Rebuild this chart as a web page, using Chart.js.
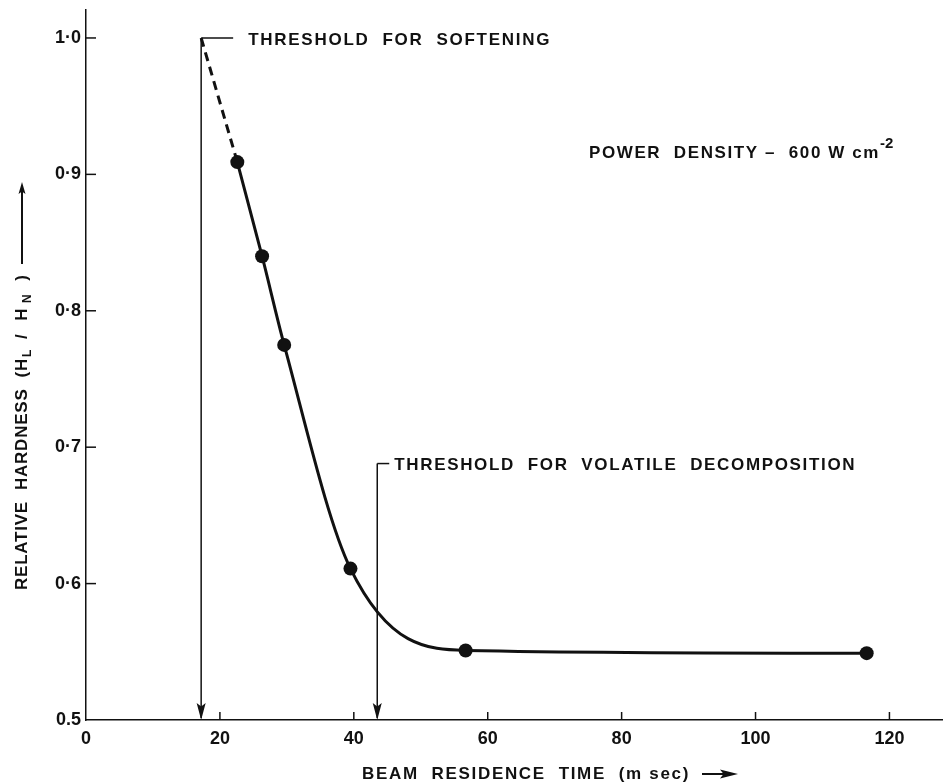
<!DOCTYPE html>
<html>
<head>
<meta charset="utf-8">
<script src="https://cdn.jsdelivr.net/npm/chart.js@4.4.1/dist/chart.umd.min.js"></script>
<style>
  html, body { margin: 0; padding: 0; background: #fff; overflow: hidden; }
  canvas { display: block; }
</style>
</head>
<body>
<canvas id="chart" width="943" height="784"></canvas>
<script>
// measured points (beam residence time in ms, relative hardness HL/HN)
const residenceTime = [22.6, 26.3, 29.6, 39.5, 56.7, 116.6];
const relativeHardness = [0.909, 0.840, 0.775, 0.611, 0.551, 0.549];

// dashed extrapolation back to the softening threshold
const extrapTime = [17.2, 22.6];
const extrapHardness = [1.0, 0.909];

// threshold arrows: where they sit on x and where they start on y
const thresholdTime = [17.2, 43.5];
const thresholdTop = [1.0, 0.688];
const thresholdLabels = ["THRESHOLD  FOR  SOFTENING", "THRESHOLD  FOR  VOLATILE  DECOMPOSITION"];

const xTicks = [0, 20, 40, 60, 80, 100, 120];
const xTickLabels = ["0", "20", "40", "60", "80", "100", "120"];
const yTicks = [0.5, 0.6, 0.7, 0.8, 0.9, 1.0];
const yTickLabels = ["0.5", "0·6", "0·7", "0·8", "0·9", "1·0"];

const INK = "#111";
const FONT = "'Liberation Sans', Arial, sans-serif";
const TXT = "bold 17px " + FONT;

// draws text stretched with letter spacing to cover a given width
function fitText(ctx, text, x, y, width) {
  ctx.letterSpacing = "0px";
  const w = ctx.measureText(text).width;
  const n = [...text].length;
  const ls = n > 1 ? (width - w) / n : 0;
  ctx.letterSpacing = ls + "px";
  ctx.fillText(text, x, y);
  const used = ctx.measureText(text).width;
  ctx.letterSpacing = "0px";
  return used;
}

function arrowHead(ctx, x, y, dx, dy, len, half) {
  // tip at (x,y), pointing along (dx,dy)
  const px = -dy, py = dx;
  ctx.beginPath();
  ctx.moveTo(x, y);
  ctx.lineTo(x - dx * len + px * half, y - dy * len + py * half);
  ctx.lineTo(x - dx * len * 0.8, y - dy * len * 0.8);
  ctx.lineTo(x - dx * len - px * half, y - dy * len - py * half);
  ctx.closePath();
  ctx.fill();
}

const annotate = {
  id: "annotate",
  afterDraw(chart) {
    const { ctx, chartArea: a, scales: { x, y } } = chart;
    ctx.save();
    ctx.strokeStyle = INK;
    ctx.fillStyle = INK;

    // inward tick marks
    ctx.lineWidth = 1.5;
    xTicks.forEach((v) => {
      if (v === 0) return;
      const px = x.getPixelForValue(v);
      ctx.beginPath(); ctx.moveTo(px, a.bottom); ctx.lineTo(px, a.bottom - 8); ctx.stroke();
    });
    yTicks.forEach((v) => {
      if (v === 0.5) return;
      const py = y.getPixelForValue(v);
      ctx.beginPath(); ctx.moveTo(a.left, py); ctx.lineTo(a.left + 10, py); ctx.stroke();
    });

    // threshold arrows with hooked labels
    ctx.font = TXT;
    ctx.textBaseline = "middle";
    ctx.textAlign = "left";
    const labelWidths = [303, 462];
    thresholdTime.forEach((t, i) => {
      const px = x.getPixelForValue(t);
      const top = y.getPixelForValue(thresholdTop[i]);
      ctx.lineWidth = 1.5;
      ctx.beginPath(); ctx.moveTo(px, top); ctx.lineTo(px, a.bottom - 2); ctx.stroke();
      arrowHead(ctx, px, a.bottom, 0, 1, 17, 4.5);
      const hook = i === 0 ? 32 : 12;
      ctx.beginPath(); ctx.moveTo(px, top); ctx.lineTo(px + hook, top); ctx.stroke();
      fitText(ctx, thresholdLabels[i], px + hook + (i === 0 ? 15 : 5), top + 2, labelWidths[i]);
    });

    // power density note
    ctx.font = TXT;
    ctx.textBaseline = "alphabetic";
    const used = fitText(ctx, "POWER  DENSITY –  600 W cm", 589, 158, 291);
    ctx.font = "bold 15px " + FONT;
    ctx.fillText("-2", 589 + used, 148);

    // x axis title with arrow
    ctx.font = TXT;
    ctx.textBaseline = "middle";
    fitText(ctx, "BEAM  RESIDENCE  TIME  (m sec)", 362, 774, 328);
    ctx.lineWidth = 2;
    ctx.beginPath(); ctx.moveTo(702, 774); ctx.lineTo(728, 774); ctx.stroke();
    arrowHead(ctx, 738, 774, 1, 0, 18, 4.5);

    // y axis title, rotated
    ctx.translate(22, 590);
    ctx.rotate(-Math.PI / 2);
    ctx.textBaseline = "middle";
    let cx = 0;
    cx += fitText(ctx, "RELATIVE  HARDNESS  (H", cx, 0, 232);
    ctx.font = "bold 12px " + FONT;
    ctx.fillText("L", cx + 1, 6);
    cx += 10;
    ctx.font = TXT;
    cx += fitText(ctx, " / H", cx, 0, 44);
    ctx.font = "bold 12px " + FONT;
    ctx.fillText("N", cx + 1, 6);
    cx += 12;
    ctx.font = TXT;
    cx += fitText(ctx, "  )", cx, 0, 18);
    ctx.lineWidth = 2;
    ctx.beginPath(); ctx.moveTo(cx + 10, 0); ctx.lineTo(400, 0); ctx.stroke();
    arrowHead(ctx, 408, 0, 1, 0, 12, 3.5);
    ctx.restore();
  },
};

const tickFont = { family: FONT, size: 18, weight: "bold" };

new Chart(document.getElementById("chart"), {
  type: "line",
  data: {
    datasets: [
      {
        data: residenceTime.map((t, i) => ({ x: t, y: relativeHardness[i] })),
        borderColor: INK,
        borderWidth: 3,
        pointRadius: 7,
        pointBackgroundColor: INK,
        pointBorderWidth: 0,
        cubicInterpolationMode: "monotone",
        fill: false,
      },
      {
        data: extrapTime.map((t, i) => ({ x: t, y: extrapHardness[i] })),
        borderColor: INK,
        borderWidth: 3,
        borderDash: [9, 6],
        pointRadius: 0,
        fill: false,
      },
    ],
  },
  options: {
    responsive: false,
    animation: false,
    layout: { autoPadding: false, padding: { top: 10, right: 0, left: 0, bottom: 0 } },
    plugins: { legend: { display: false }, tooltip: { enabled: false } },
    scales: {
      x: {
        type: "linear",
        min: 0,
        max: 128,
        afterBuildTicks: (s) => { s.ticks = xTicks.map((v) => ({ value: v })); },
        afterFit: (s) => { s.height = 64; s.paddingLeft = 0; s.paddingRight = 0; },
        ticks: {
          callback: (v, i) => xTickLabels[i],
          font: tickFont,
          color: INK,
          padding: 8,
          maxRotation: 0,
          autoSkip: false,
        },
        grid: { display: false, drawTicks: false },
        border: { display: true, color: INK, width: 1.5 },
      },
      y: {
        type: "linear",
        min: 0.5,
        max: 1.0205,
        afterBuildTicks: (s) => { s.ticks = yTicks.map((v) => ({ value: v })); },
        afterFit: (s) => { s.width = 86; s.paddingTop = 0; s.paddingBottom = 0; },
        ticks: {
          callback: (v, i) => yTickLabels[i],
          font: tickFont,
          color: INK,
          padding: 5,
          autoSkip: false,
        },
        grid: { display: false, drawTicks: false },
        border: { display: true, color: INK, width: 1.5 },
      },
    },
  },
  plugins: [annotate],
});
</script>
</body>
</html>
